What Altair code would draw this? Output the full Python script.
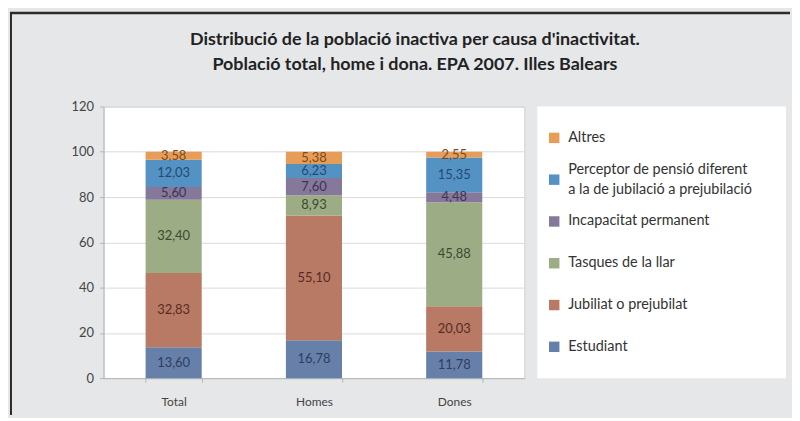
import altair as alt
import pandas as pd

groups = ["Total", "Homes", "Dones"]
causes = [
    "Estudiant",
    "Jubiliat o prejubilat",
    "Tasques de la llar",
    "Incapacitat permanent",
    "Perceptor de pensió diferent\na la de jubilació a prejubilació",
    "Altres",
]
estudiant = [13.60, 16.78, 11.78]
jubiliat = [32.83, 55.10, 20.03]
tasques = [32.40, 8.93, 45.88]
incapacitat = [5.60, 7.60, 4.48]
perceptor = [12.03, 6.23, 15.35]
altres = [3.58, 5.38, 2.55]
series = [estudiant, jubiliat, tasques, incapacitat, perceptor, altres]

bar_colors = ["#6780a9", "#b87a65", "#9cad86", "#85789a", "#5592c4", "#e79d57"]
text_colors = ["#2f3d5e", "#5a2b22", "#3b4a2e", "#3f3350", "#1f4b73", "#7a4a1a"]
y_ticks = [0, 20, 40, 60, 80, 100, 120]

title_lines = [
    "Distribució de la població inactiva per causa d'inactivitat.",
    "Població total, home i dona. EPA 2007. Illes Balears",
]

rows = []
for i, g in enumerate(groups):
    for k, c in enumerate(causes):
        rows.append({"grup": g, "causa": c, "ordre": k, "valor": series[k][i],
                     "tc": text_colors[k]})
df = pd.DataFrame(rows)

FONT = "Lato"

y_axis = alt.Axis(values=y_ticks, title=None, tickSize=4, labelPadding=6,
                  gridColor="#dadada", domainColor="#b5b5b5", tickColor="#b5b5b5",
                  labelColor="#444444", labelFontSize=13, labelFont=FONT,
                  minExtent=30, maxExtent=30)
y_scale = alt.Scale(domain=[0, 120], nice=False)
x_enc = alt.X("grup:N", sort=groups, title=None,
              scale=alt.Scale(paddingInner=0.6, paddingOuter=0.3),
              axis=alt.Axis(labelAngle=0, tickBand="extent", tickSize=4, labelPadding=14,
                            domainColor="#b5b5b5", tickColor="#b5b5b5", labelFontSize=12,
                            labelFont=FONT, labelColor="#444444", grid=False))

base = alt.Chart(df).transform_stack(
    stack="valor", groupby=["grup"], sort=[alt.SortField("ordre")], as_=["y0", "y1"]
).transform_calculate(
    mid="(datum.y0 + datum.y1) / 2",
    etiqueta="replace(format(datum.valor, '.2f'), '.', ',')",
)

bars = base.mark_bar().encode(
    x=x_enc,
    y=alt.Y("y1:Q", scale=y_scale, axis=y_axis),
    y2="y0:Q",
    color=alt.Color("causa:N", scale=alt.Scale(domain=causes, range=bar_colors), legend=None),
)
labels = base.mark_text(fontSize=13, font=FONT, baseline="middle").encode(
    x=x_enc,
    y=alt.Y("mid:Q", scale=y_scale, axis=y_axis),
    text="etiqueta:N",
    color=alt.Color("tc:N", scale=None),
)

# dark frame lines of the original picture (left and top edges)
frame_df = pd.DataFrame({"f": [0]})
frame_left = alt.Chart(frame_df).mark_rule(color="#2b2b2b", strokeWidth=2).encode(
    x=alt.value(-93), y=alt.value(-95), y2=alt.value(310)
)
frame_top = alt.Chart(frame_df).mark_rule(color="#2b2b2b", strokeWidth=2.5).encode(
    y=alt.value(-94), x=alt.value(-94), x2=alt.value(690)
)

main = alt.layer(bars, labels, frame_left, frame_top).properties(
    width=423, height=273,
    view=alt.ViewBackground(fill="white", stroke="#cfcfcf"),
)

leg_order = causes[::-1]
leg_df = pd.DataFrame({"causa": leg_order, "c": bar_colors[::-1],
                       "linies": [c.count("\n") + 1 for c in leg_order]})
leg_y = alt.Y("causa:N", sort=leg_order, axis=None,
              scale=alt.Scale(type="point", padding=0.75))
squares = alt.Chart(leg_df).mark_square(size=110, opacity=1).encode(
    x=alt.value(17), y=leg_y, color=alt.Color("c:N", scale=None)
)
leg_text1 = alt.Chart(leg_df).transform_filter("datum.linies == 1").mark_text(
    align="left", baseline="middle", fontSize=14.5, font=FONT, color="#333333"
).encode(x=alt.value(31), y=leg_y, text="causa:N")
leg_text2 = alt.Chart(leg_df).transform_filter("datum.linies == 2").mark_text(
    align="left", baseline="middle", lineBreak="\n", lineHeight=20, dy=-10,
    fontSize=14.5, font=FONT, color="#333333"
).encode(x=alt.value(31), y=leg_y, text="causa:N")
legend = alt.layer(squares, leg_text1, leg_text2).properties(
    width=250, height=273,
    view=alt.ViewBackground(fill="white", stroke=None),
)

chart = alt.hconcat(main, legend, spacing=13, bounds="flush").properties(
    title=alt.Title(title_lines, fontSize=18, font=FONT, fontWeight="bold",
                    color="#222222", lineHeight=25, offset=-64, dx=15, anchor="middle"),
    padding={"left": 0, "top": 1, "right": 0, "bottom": 0},
    background="#e6e7e9",
)

chart.save("out.html", embed_options={"renderer": "svg", "actions": False})
